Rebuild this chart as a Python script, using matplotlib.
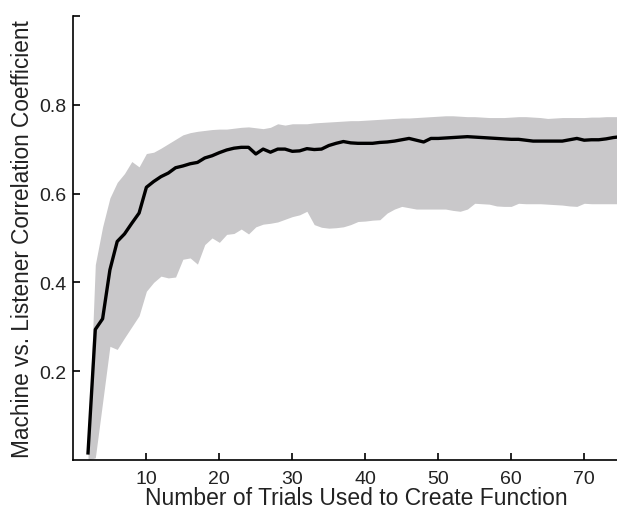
import numpy as np
import matplotlib
matplotlib.use('Agg')
import matplotlib.pyplot as plt

plt.rcParams['font.family'] = ['Liberation Sans', 'DejaVu Sans']

# number of trials used to build the function
trials = list(range(2, 76))

# mean correlation per trial count
mean_corr = [
    0.016, 0.294, 0.318, 0.428, 0.492, 0.509, 0.533, 0.556, 0.614, 0.627,
    0.638, 0.646, 0.658, 0.662, 0.667, 0.670, 0.680, 0.685, 0.692, 0.698,
    0.702, 0.704, 0.704, 0.689, 0.700, 0.693, 0.700, 0.700, 0.695, 0.696,
    0.701, 0.699, 0.700, 0.708, 0.713, 0.717, 0.714, 0.713, 0.713, 0.713,
    0.715, 0.716, 0.718, 0.721, 0.724, 0.720, 0.716, 0.724, 0.724, 0.725,
    0.726, 0.727, 0.728, 0.727, 0.726, 0.725, 0.724, 0.723, 0.722, 0.722,
    0.720, 0.718, 0.718, 0.718, 0.718, 0.718, 0.721, 0.724, 0.720, 0.721,
    0.721, 0.723, 0.726, 0.728,
]

# upper edge of shaded range
upper_corr = [
    0.020, 0.440, 0.525, 0.590, 0.625, 0.645, 0.672, 0.660, 0.690, 0.693,
    0.702, 0.712, 0.722, 0.732, 0.737, 0.740, 0.742, 0.744, 0.745, 0.745,
    0.747, 0.749, 0.750, 0.748, 0.746, 0.749, 0.757, 0.754, 0.757, 0.757,
    0.757, 0.759, 0.760, 0.761, 0.762, 0.763, 0.764, 0.764, 0.765, 0.766,
    0.767, 0.768, 0.769, 0.770, 0.770, 0.771, 0.772, 0.773, 0.774, 0.775,
    0.775, 0.774, 0.773, 0.773, 0.772, 0.771, 0.771, 0.771, 0.772, 0.773,
    0.773, 0.772, 0.771, 0.769, 0.770, 0.771, 0.771, 0.771, 0.771, 0.772,
    0.772, 0.773, 0.773, 0.773,
]

# lower edge of shaded range
lower_corr = [
    0.000, 0.005, 0.130, 0.256, 0.249, 0.275, 0.300, 0.325, 0.380, 0.400,
    0.414, 0.410, 0.412, 0.452, 0.455, 0.441, 0.485, 0.500, 0.490, 0.508,
    0.510, 0.520, 0.509, 0.525, 0.531, 0.533, 0.536, 0.542, 0.548, 0.552,
    0.560, 0.530, 0.524, 0.522, 0.523, 0.525, 0.530, 0.537, 0.538, 0.540,
    0.541, 0.556, 0.565, 0.571, 0.568, 0.565, 0.565, 0.565, 0.565, 0.565,
    0.562, 0.560, 0.565, 0.578, 0.577, 0.576, 0.572, 0.571, 0.571, 0.578,
    0.577, 0.577, 0.577, 0.576, 0.575, 0.574, 0.572, 0.571, 0.578, 0.577,
    0.577, 0.577, 0.577, 0.577,
]

y_ticks = [0.2, 0.4, 0.6, 0.8, 1.0]
y_tick_labels = ['0.2', '0.4', '0.6', '0.8', '']
x_ticks = [10, 20, 30, 40, 50, 60, 70]

fig = plt.figure(figsize=(6.17, 5.10), dpi=100)
ax = fig.add_axes([0.119, 0.096, 0.881, 0.871])

ax.fill_between(trials, lower_corr, upper_corr, color='#c9c8ca', linewidth=0)
ax.plot(trials, mean_corr, color='black', linewidth=2.4)

ax.set_xlim(0, 74.5)
ax.set_ylim(0, 1.0)

ax.set_xticks(x_ticks)
ax.set_yticks(y_ticks)
ax.set_yticklabels(y_tick_labels)
ax.tick_params(direction='in', length=5, width=1.2, labelsize=14,
               colors='black', labelcolor='#222222')
ax.tick_params(axis='x', pad=7)
ax.tick_params(axis='y', pad=5)

for side in ['top', 'right']:
    ax.spines[side].set_visible(False)
for side in ['left', 'bottom']:
    ax.spines[side].set_linewidth(1.2)

ax.set_xlabel('Number of Trials Used to Create Function', fontsize=16.5,
              color='#222222')
ax.xaxis.set_label_coords(0.52, -0.058)
ax.set_ylabel('Machine vs. Listener Correlation Coefficient', fontsize=16.3,
              labelpad=4, color='#222222')

fig.savefig('out.png', dpi=100)
